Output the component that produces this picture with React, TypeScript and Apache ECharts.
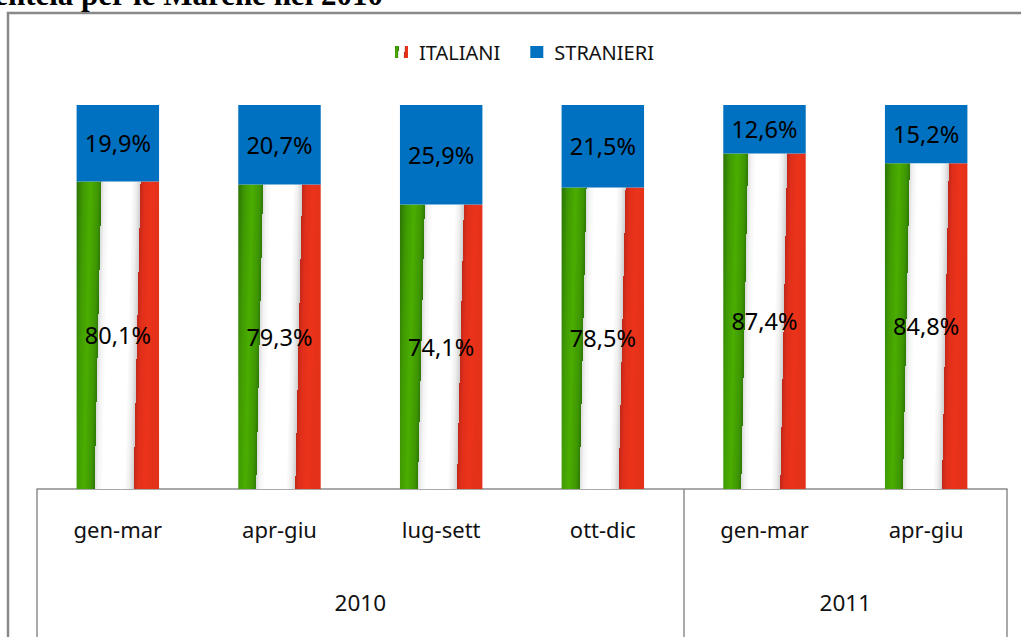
import React, { useEffect, useRef } from "react";
import * as echarts from "echarts";

const QUARTERS = ["gen-mar", "apr-giu", "lug-sett", "ott-dic", "gen-mar", "apr-giu"];
const YEAR_GROUPS = [
  { year: "2010", quarters: 4 },
  { year: "2011", quarters: 2 },
];
const ITALIANI = [80.1, 79.3, 74.1, 78.5, 87.4, 84.8];
const STRANIERI = [19.9, 20.7, 25.9, 21.5, 12.6, 15.2];
const SERIES_NAMES = ["ITALIANI", "STRANIERI"];
const TITLE = "clientela per le Marche nel 2010";

const FONT = "'Noto Sans', 'Open Sans', sans-serif";

const flag = new echarts.graphic.LinearGradient(0, 0, 1, 0.085, [
  { offset: 0, color: "#2b7304" },
  { offset: 0.08, color: "#3f9a02" },
  { offset: 0.17, color: "#4bad00" },
  { offset: 0.26, color: "#3e9603" },
  { offset: 0.3, color: "#2e7a05" },
  { offset: 0.3, color: "#dcdcdc" },
  { offset: 0.34, color: "#f4f4f4" },
  { offset: 0.4, color: "#ffffff" },
  { offset: 0.66, color: "#ffffff" },
  { offset: 0.72, color: "#eeeeee" },
  { offset: 0.77, color: "#cfcfcf" },
  { offset: 0.77, color: "#c2281a" },
  { offset: 0.82, color: "#e02f1a" },
  { offset: 0.9, color: "#eb331a" },
  { offset: 1, color: "#e4311a" },
]);

const fmt = (v: number) => v.toFixed(1).replace(".", ",") + "%";

export default function App() {
  const ref = useRef<HTMLDivElement>(null);
  useEffect(() => {
    if (!ref.current) return;
    const chart = echarts.init(ref.current, undefined, { renderer: "svg" });
    const bounds: number[] = [0];
    const centers: number[] = [];
    YEAR_GROUPS.forEach((g) => {
      const start = bounds[bounds.length - 1];
      centers.push(start + g.quarters / 2);
      bounds.push(start + g.quarters);
    });
    const total = bounds[bounds.length - 1];
    const labelStyle = {
      show: true,
      position: "inside" as const,
      color: "#000",
      fontFamily: FONT,
      fontSize: 23.5,
      formatter: (p: any) => fmt(p.value),
    };
    chart.setOption({
      animation: false,
      backgroundColor: "#fff",
      graphic: [
        {
          type: "rect",
          z: -10,
          shape: { x: 8, y: 13, width: 1100, height: 700 },
          style: { fill: "none", stroke: "#898989", lineWidth: 2.5 },
        },
        {
          type: "text",
          x: 383,
          y: 10,
          style: {
            text: TITLE,
            font: "bold 31px 'Liberation Serif', 'Times New Roman', serif",
            fill: "#000",
            align: "right",
            verticalAlign: "bottom",
          },
        },
      ],
      legend: {
        left: 390,
        top: 37,
        icon: "rect",
        itemWidth: 13,
        itemHeight: 12,
        itemGap: 30,
        data: SERIES_NAMES,
        textStyle: {
          fontFamily: FONT,
          fontSize: 20,
          color: "#111",
          padding: [0, 0, 0, 6],
        },
      },
      grid: { left: 37, right: 14, top: 105, bottom: 148, containLabel: false },
      xAxis: [
        {
          type: "category",
          data: QUARTERS,
          position: "bottom",
          axisLine: { show: true, lineStyle: { color: "#8c8c8c", width: 1.5 } },
          axisTick: { show: false },
          axisLabel: {
            color: "#111",
            fontFamily: FONT,
            fontSize: 22,
            margin: 29,
            interval: 0,
          },
          splitLine: { show: false },
        },
        {
          type: "value",
          min: 0,
          max: total,
          position: "bottom",
          offset: 0,
          axisLine: { show: false },
          splitLine: { show: false },
          axisTick: {
            show: true,
            customValues: bounds,
            length: 160,
            lineStyle: { color: "#8c8c8c", width: 1.5 },
          },
          axisLabel: {
            show: true,
            customValues: centers,
            color: "#111",
            fontFamily: FONT,
            fontSize: 22.5,
            margin: 102,
            formatter: (v: number) => {
              const i = centers.indexOf(v);
              return i >= 0 ? YEAR_GROUPS[i].year : "";
            },
          },
        },
      ],
      yAxis: {
        type: "value",
        min: 0,
        max: 100,
        show: false,
      },
      series: [
        {
          name: SERIES_NAMES[0],
          type: "bar",
          stack: "tot",
          xAxisIndex: 0,
          barWidth: "51%",
          data: ITALIANI,
          itemStyle: { color: flag },
          label: labelStyle,
        },
        {
          name: SERIES_NAMES[1],
          type: "bar",
          stack: "tot",
          xAxisIndex: 0,
          barWidth: "51%",
          data: STRANIERI,
          itemStyle: { color: "#0070c0" },
          label: labelStyle,
        },
      ],
    });
    return () => chart.dispose();
  }, []);
  return (
    <div
      ref={ref}
      style={{ position: "absolute", left: 0, top: 0, width: 1021, height: 637 }}
    />
  );
}
